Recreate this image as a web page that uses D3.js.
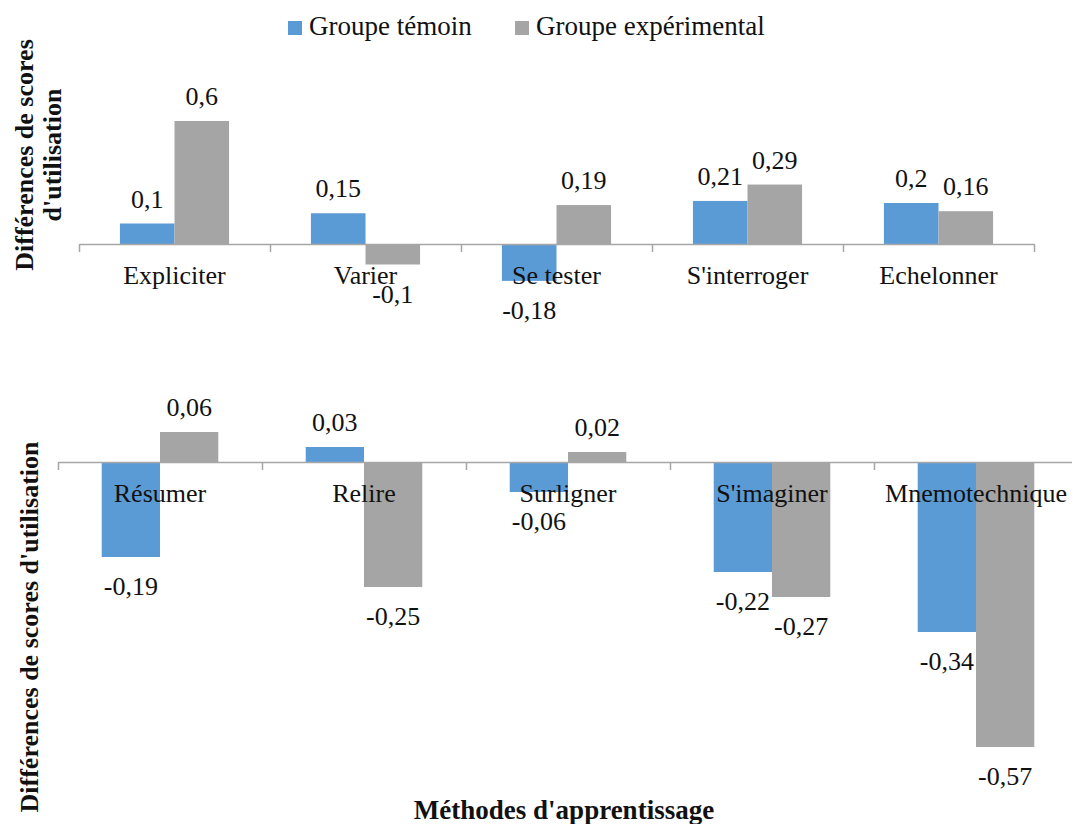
<!DOCTYPE html>
<html>
<head>
<meta charset="utf-8">
<script src="https://cdn.jsdelivr.net/npm/d3@7"></script>
<style>
  html, body { margin: 0; padding: 0; background: #fff; }
  svg { display: block; }
  svg text { font-family: "Liberation Serif"; }
</style>
</head>
<body>
<svg id="chart" width="1072" height="824"></svg>
<script>
// ---- Data ----
const seriesNames = ["Groupe témoin", "Groupe expérimental"];
const seriesColors = ["#5b9bd5", "#a5a5a5"];

const categoriesTop = ["Expliciter", "Varier", "Se tester", "S'interroger", "Echelonner"];
const temoinTop = [0.1, 0.15, -0.18, 0.21, 0.2];
const experimentalTop = [0.6, -0.1, 0.19, 0.29, 0.16];

const categoriesBottom = ["Résumer", "Relire", "Surligner", "S'imaginer", "Mnemotechnique"];
const temoinBottom = [-0.19, 0.03, -0.06, -0.22, -0.34];
const experimentalBottom = [0.06, -0.25, 0.02, -0.27, -0.57];

const yTitleTop = ["Différences de scores", "d'utilisation"];
const yTitleBottom = "Différences de scores d'utilisation";
const xTitle = "Méthodes d'apprentissage";

// ---- Drawing ----
const FONT = '"Liberation Serif"';
const svg = d3.select("#chart");
const fmt = v => String(v).replace(".", ",");
const FS = 26;

function drawPanel(cfg) {
  const g = svg.append("g");
  const x0 = d3.scaleBand().domain(cfg.categories).range(cfg.xRange);
  const bw = x0.bandwidth();
  const w = bw / 3.5;
  const x1 = d3.scaleBand().domain(seriesNames).range([bw / 2 - w, bw / 2 + w]);
  const y = d3.scaleLinear().domain(cfg.yDomain).range(cfg.yRange);

  const rows = cfg.categories.map((c, i) => ({
    cat: c,
    vals: [cfg.s1[i], cfg.s2[i]]
  }));

  const groups = g.selectAll("g.cat").data(rows).join("g")
    .attr("class", "cat")
    .attr("transform", d => `translate(${x0(d.cat)},0)`);

  groups.selectAll("rect").data(d => d.vals.map((v, j) => ({v, s: seriesNames[j], j})))
    .join("rect")
    .attr("x", d => x1(d.s))
    .attr("width", x1.bandwidth())
    .attr("y", d => Math.min(y(d.v), y(0)))
    .attr("height", d => Math.abs(y(d.v) - y(0)))
    .attr("fill", d => seriesColors[d.j]);

  // axis line with ticks at category boundaries
  const axis = d3.axisBottom(d3.scaleLinear().domain(cfg.xRange).range(cfg.xRange))
    .tickValues(d3.range(cfg.categories.length + 1).map(i => cfg.xRange[0] + i * bw))
    .tickSize(8).tickSizeOuter(0).tickFormat("");
  const ax = g.append("g").attr("transform", `translate(0,${y(0)})`).call(axis);
  ax.select(".domain").attr("stroke", "#a6a6a6").attr("stroke-width", 1.5);
  ax.selectAll(".tick line").attr("stroke", "#a6a6a6").attr("stroke-width", 1.5);

  // category labels
  g.selectAll("text.catlab").data(cfg.categories).join("text")
    .attr("class", "catlab")
    .attr("x", d => x0(d) + bw / 2)
    .attr("y", y(0) + 40)
    .attr("text-anchor", "middle")
    .style("font-size", FS + "px")
    .style("font-family", FONT)
    .attr("fill", "#111")
    .text(d => d);

  // value labels
  groups.selectAll("text.val").data(d => d.vals.map((v, j) => ({v, s: seriesNames[j]})))
    .join("text")
    .attr("class", "val")
    .attr("x", d => x1(d.s) + x1.bandwidth() / 2)
    .attr("y", d => d.v >= 0 ? y(d.v) - 16 : y(d.v) + 38)
    .attr("text-anchor", "middle")
    .style("font-size", FS + "px")
    .style("font-family", FONT)
    .attr("fill", "#111")
    .text(d => fmt(d.v));
}

drawPanel({
  categories: categoriesTop, s1: temoinTop, s2: experimentalTop,
  xRange: [79, 1034], yDomain: [-0.2, 0.6], yRange: [285, 121]
});
drawPanel({
  categories: categoriesBottom, s1: temoinBottom, s2: experimentalBottom,
  xRange: [58, 1078], yDomain: [-0.57, 0.06], yRange: [747, 432]
});

// legend
const legX = [288, 515];
seriesNames.forEach((s, i) => {
  svg.append("rect").attr("x", legX[i]).attr("y", 21).attr("width", 14).attr("height", 14)
    .attr("fill", seriesColors[i]);
  svg.append("text").attr("x", legX[i] + 21).attr("y", 35)
    .style("font-size", (FS + 1) + "px").style("font-family", FONT).attr("fill", "#111").text(s);
});

// y titles
const t1 = svg.append("text")
  .attr("transform", "translate(0,155) rotate(-90)")
  .attr("text-anchor", "middle").style("font-weight", "bold").style("font-size", FS + "px")
  .style("font-family", FONT).attr("fill", "#111");
t1.append("tspan").attr("x", 0).attr("y", 33).text(yTitleTop[0]);
t1.append("tspan").attr("x", 0).attr("y", 61).text(yTitleTop[1]);

svg.append("text")
  .attr("transform", "translate(38,627) rotate(-90)")
  .attr("text-anchor", "middle").style("font-weight", "bold").style("font-size", FS + "px")
  .style("font-family", FONT).attr("fill", "#111")
  .text(yTitleBottom);

// x title
svg.append("text").attr("x", 564).attr("y", 819)
  .attr("text-anchor", "middle").style("font-weight", "bold").style("font-size", (FS + 1) + "px")
  .style("font-family", FONT).attr("fill", "#111")
  .text(xTitle);
</script>
</body>
</html>
